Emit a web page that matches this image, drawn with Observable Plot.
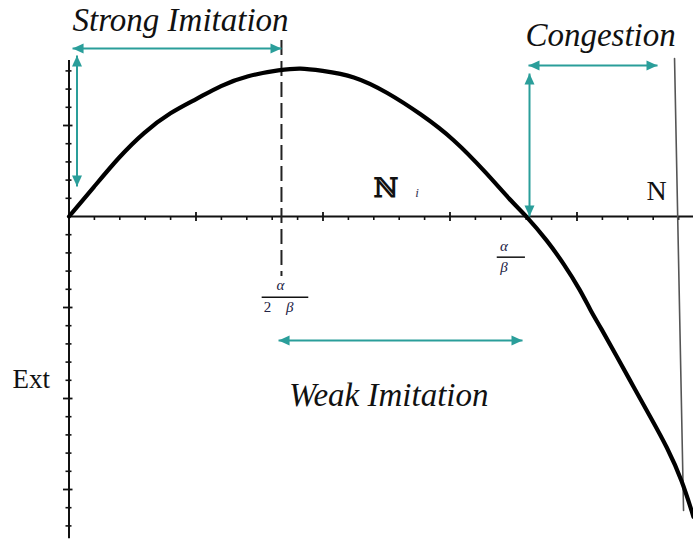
<!DOCTYPE html>
<html>
<head>
<meta charset="utf-8">
<script src="https://cdn.jsdelivr.net/npm/d3@7"></script>
<script src="https://cdn.jsdelivr.net/npm/@observablehq/plot@0.6"></script>
<style>
  html, body { margin: 0; padding: 0; background: #fff; }
  #chart svg { display: block; }
</style>
</head>
<body>
<div id="chart"></div>
<script>
// ---- data (units: x major tick = 1, y major tick = 1) ----
const curveX = [0, 0.195, 0.392, 0.589, 0.799, 1.009, 1.193, 1.403, 1.665, 1.823, 1.980, 2.243, 2.506, 2.768, 3.030, 3.293, 3.476, 3.605, 3.765, 3.896, 4.028, 4.106, 4.185, 4.317, 4.447, 4.579, 4.710, 4.828, 4.917];
const curveY = [0, 0.322, 0.652, 0.926, 1.146, 1.293, 1.440, 1.549, 1.612, 1.634, 1.604, 1.549, 1.366, 1.129, 0.854, 0.469, 0.176, 0.000, -0.264, -0.520, -0.813, -1.033, -1.216, -1.546, -1.876, -2.205, -2.535, -2.901, -3.300];

const xMinorTicks = [0.2, 0.4, 0.6, 0.8, 1.2, 1.4, 1.6, 1.8, 2.2, 2.4, 2.6, 2.8, 3.2, 3.4, 3.6, 3.8, 4.2, 4.4, 4.6, 4.8];
const xMajorTicks = [1, 2, 3, 4];
const yMinorTicks = [1.6, 1.4, 1.2, 0.8, 0.6, 0.4, 0.2, -0.2, -0.4, -0.6, -0.8, -1.2, -1.4, -1.6, -1.8, -2.2, -2.4, -2.6, -2.8, -3.2, -3.4];
const yMajorTicks = [1, -1, -2, -3];
const xAxisExtent = [0, 4.92];
const yAxisExtent = [1.714, -3.54];

const halfLevel = 1.673;          // alpha / (2 beta)
const dashedExtent = [1.934, -0.659];
const capacityLine = [[4.768, 1.736], [4.839, -3.231]];

const arrowNames = ["strongH", "strongV", "congestionH", "congestionV", "weakH"];
const arrowX1 = [0.028, 0.063, 3.618, 3.626, 1.650];
const arrowY1 = [1.846, 1.769, 1.659, 1.571, -1.363];
const arrowX2 = [1.673, 0.063, 4.634, 3.626, 3.571];
const arrowY2 = [1.846, 0.330, 1.659, 0.000, -1.363];

const labelTexts = ["Strong Imitation", "Congestion", "Weak Imitation"];
const labelX = [0.028, 3.594, 1.732];
const labelY = [2.033, 1.879, -2.077];

// ---- scale setup ----
const W = 693, H = 540;
const originPx = [68.5, 216];
const pxPerX = 127, pxPerY = 91;
const xDomain = [-originPx[0] / pxPerX, (W - originPx[0]) / pxPerX];
const yDomain = [-(H - originPx[1]) / pxPerY, originPx[1] / pxPerY];
const px = v => v / pxPerX, py = v => v / pxPerY;

const teal = "#2a9e9a";
const ink = "#111";
const serif = "'Liberation Serif', 'DejaVu Serif', serif";

const curve = curveX.map((x, i) => ({x, y: curveY[i]}));
const arrows = arrowNames.map((name, i) => ({name, x1: arrowX1[i], y1: arrowY1[i], x2: arrowX2[i], y2: arrowY2[i]}));

// arrow heads with the tip at the origin
const L = 11, Wd = 5;
const head = (dx, dy) => ({
  draw(ctx) {
    const nx = -dy, ny = dx;
    ctx.moveTo(0, 0);
    ctx.lineTo(-dx * L + nx * Wd, -dy * L + ny * Wd);
    ctx.lineTo(-dx * L - nx * Wd, -dy * L - ny * Wd);
    ctx.closePath();
  }
});
const heads = [];
for (const a of arrows) {
  const sx = Math.sign(a.x2 - a.x1), sy = -Math.sign(a.y2 - a.y1); // screen direction
  heads.push({x: a.x2, y: a.y2, dir: `${sx},${sy}`});
  heads.push({x: a.x1, y: a.y1, dir: `${-sx},${-sy}`});
}
const dirs = Array.from(new Set(heads.map(h => h.dir)));
const headMarks = dirs.map(d => {
  const [dx, dy] = d.split(",").map(Number);
  return Plot.dot(heads.filter(h => h.dir === d), {x: "x", y: "y", symbol: head(dx, dy), fill: teal, stroke: "none", r: 5});
});

const labels = labelTexts.map((t, i) => ({t, x: labelX[i], y: labelY[i]}));

const chart = Plot.plot({
  width: W,
  height: H,
  margin: 0,
  x: {domain: xDomain, axis: null},
  y: {domain: yDomain, axis: null},
  style: {background: "#fff", fontFamily: serif},
  marks: [
    // axes
    Plot.ruleY([0], {x1: xAxisExtent[0], x2: xAxisExtent[1], stroke: ink, strokeWidth: 2}),
    Plot.ruleX([0], {y1: yAxisExtent[0], y2: yAxisExtent[1], stroke: ink, strokeWidth: 2}),
    Plot.ruleX(xMinorTicks, {x: d => d, y1: 0, y2: -py(4), stroke: ink, strokeWidth: 1.6}),
    Plot.ruleX(xMajorTicks, {x: d => d, y1: py(4), y2: -py(5), stroke: ink, strokeWidth: 1.8}),
    Plot.ruleY(yMinorTicks, {y: d => d, x1: -px(3), x2: px(3), stroke: ink, strokeWidth: 1.6}),
    Plot.ruleY(yMajorTicks, {y: d => d, x1: -px(5.5), x2: px(4), stroke: ink, strokeWidth: 1.8}),
    // dashed half level
    Plot.ruleX([halfLevel], {y1: dashedExtent[0], y2: dashedExtent[1], stroke: "#222", strokeWidth: 2, strokeDasharray: "15,6"}),
    // capacity line N
    Plot.line(capacityLine, {x: d => d[0], y: d => d[1], stroke: "#555", strokeWidth: 1.6}),
    // curve
    Plot.line(curve, {x: "x", y: "y", stroke: "#000", strokeWidth: 4.2, curve: "basis"}),
    // arrows
    Plot.link(arrows, {x1: "x1", y1: "y1", x2: "x2", y2: "y2", stroke: teal, strokeWidth: 2}),
    ...headMarks,
    // region labels
    Plot.text(labels, {x: "x", y: "y", text: "t", textAnchor: "start", lineAnchor: "bottom", fontSize: 33, fontStyle: "italic", fill: ink}),
    Plot.text(["Ext"], {x: -0.445, y: -1.890, text: d => d, textAnchor: "start", lineAnchor: "bottom", fontSize: 27, fill: ink}),
    Plot.text(["N"], {x: 4.547, y: 0.176, text: d => d, textAnchor: "start", lineAnchor: "bottom", fontSize: 28, fill: ink}),
    Plot.text(["ℕ"], {x: 2.398, y: 0.212, text: d => d, textAnchor: "start", lineAnchor: "bottom", fontSize: 27, fill: ink, fontWeight: "bold", fontFamily: "'DejaVu Serif', serif"}),
    Plot.text(["i"], {x: 2.74, y: 0.209, text: d => d, textAnchor: "middle", lineAnchor: "bottom", fontSize: 13, fontStyle: "italic", fill: "#335"}),
    // alpha / beta
    Plot.text(["α"], {x: 3.425, y: -0.33, text: d => d, fontSize: 15, fontStyle: "italic", fill: "#224"}),
    Plot.ruleY([-0.447], {x1: 3.372, x2: 3.594, stroke: ink, strokeWidth: 1.5}),
    Plot.text(["β"], {x: 3.425, y: -0.557, text: d => d, fontSize: 15, fontStyle: "italic", fill: "#224"}),
    // alpha / (2 beta)
    Plot.text(["α"], {x: 1.665, y: -0.758, text: d => d, fontSize: 15, fontStyle: "italic", fill: "#224"}),
    Plot.ruleY([-0.887], {x1: 1.521, x2: 1.888, stroke: ink, strokeWidth: 1.5}),
    Plot.text(["2"], {x: 1.563, y: -1.0, text: d => d, fontSize: 15, fill: "#224"}),
    Plot.text(["β"], {x: 1.739, y: -1.0, text: d => d, fontSize: 15, fontStyle: "italic", fill: "#224"})
  ]
});
document.getElementById("chart").appendChild(chart);
</script>
</body>
</html>
